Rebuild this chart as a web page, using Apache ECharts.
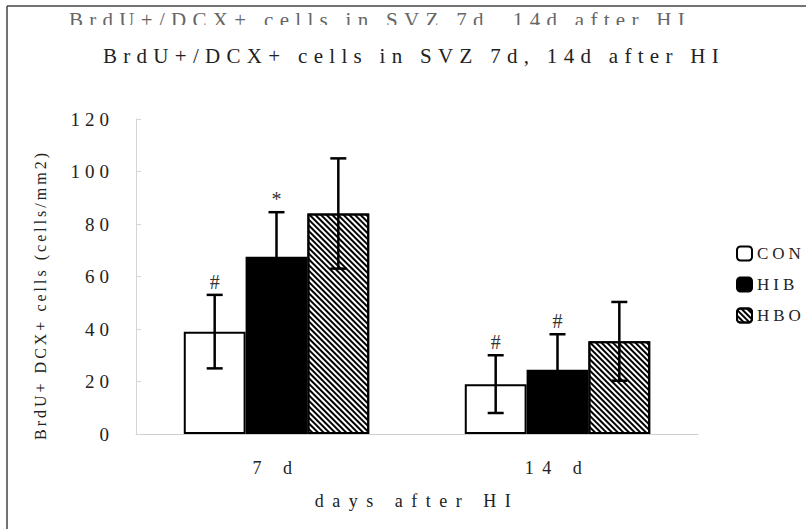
<!DOCTYPE html>
<html>
<head>
<meta charset="utf-8">
<script src="https://cdn.jsdelivr.net/npm/echarts@6/dist/echarts.min.js"></script>
<style>
  html, body { margin: 0; padding: 0; background: #fff; }
  #chart { width: 806px; height: 529px; }
  #chart text { font-family: 'Liberation Serif', serif !important; }
  /* the source figure uses widely spaced half-width glyphs */
  #chart text[style*="21px"] { letter-spacing: 6.3px; }
  #chart text[style*="19px"] { letter-spacing: 5px; }
  #chart text[style*="18px"] { letter-spacing: 8.5px; }
  #chart text[style*="17px"] { letter-spacing: 4px; }
  #chart text[style*="16px"] { letter-spacing: 3px; }
</style>
</head>
<body>
<div id="chart"></div>
<script>
// data
var categories = ['7 d', '14 d'];
var groupNames = ['CON', 'HIB', 'HBO'];
var conMean = [39, 19];
var conErr = [14, 11];
var hibMean = [67.5, 24.5];
var hibErr = [17, 13.5];
var hboMean = [84, 35.3];
var hboErr = [21, 15];
var conMark = ['#', '#'];
var hibMark = ['*', '#'];
var hboMark = ['', ''];
var yTicks = [0, 20, 40, 60, 80, 100, 120];

var titleText = 'BrdU+/DCX+ cells in SVZ 7d, 14d after HI';
var yName = 'BrdU+ DCX+ cells (cells/mm2)';
var xName = 'days after HI';

var FONT = 'Liberation Serif, serif';
var BAR_FRAC = 0.22;

var means = [conMean, hibMean, hboMean];
var errs = [conErr, hibErr, hboErr];
var marks = [conMark, hibMark, hboMark];

var barStyles = [
    {color: '#fff', borderColor: '#000', borderWidth: 2},
    {color: '#000', borderColor: '#000', borderWidth: 2},
    {
        color: '#fff', borderColor: '#000', borderWidth: 2,
        decal: {
            symbol: 'rect',
            symbolSize: 1,
            color: '#000',
            dashArrayX: [1, 0],
            dashArrayY: [1.5, 1.5],
            rotation: Math.PI / 4
        }
    }
];

function makeErrRender(gi) {
    return function (params, api) {
        var band = api.size([1, 0])[0];
        var dx = (gi - 1) * band * BAR_FRAC;
        var ci = api.value(0), m = api.value(1), e = api.value(2);
        var hi = api.coord([ci, m + e]);
        var lo = api.coord([ci, m - e]);
        var x = hi[0] + dx, cap = 8;
        var st = {stroke: '#000', lineWidth: 2.5};
        var kids = [
            {type: 'line', shape: {x1: x, y1: hi[1], x2: x, y2: lo[1]}, style: st},
            {type: 'line', shape: {x1: x - cap, y1: hi[1], x2: x + cap, y2: hi[1]}, style: st},
            {type: 'line', shape: {x1: x - cap, y1: lo[1], x2: x + cap, y2: lo[1]}, style: st}
        ];
        var mk = marks[gi][params.dataIndex];
        if (mk) {
            kids.push({
                type: 'text', x: x, y: hi[1] - 3,
                style: {text: mk, fill: '#333', font: '20px ' + FONT, align: 'center', verticalAlign: 'bottom'}
            });
        }
        return {type: 'group', children: kids};
    };
}

var series = [];
groupNames.forEach(function (name, gi) {
    series.push({
        name: name,
        type: 'bar',
        barWidth: (BAR_FRAC * 100) + '%',
        barGap: '0%',
        itemStyle: barStyles[gi],
        data: means[gi],
        animation: false
    });
});
groupNames.forEach(function (name, gi) {
    series.push({
        type: 'custom',
        z: 5,
        renderItem: makeErrRender(gi),
        data: categories.map(function (c, i) { return [i, means[gi][i], errs[gi][i]]; }),
        animation: false,
        silent: true
    });
});

var chart = echarts.init(document.getElementById('chart'), null, {renderer: 'svg'});
chart.setOption({
    backgroundColor: '#fff',
    animation: false,
    textStyle: {fontFamily: FONT, color: '#222'},
    grid: {left: 136, right: 108, top: 119, bottom: 95},
    legend: {
        orient: 'vertical',
        left: 731,
        top: 240,
        itemWidth: 15,
        itemHeight: 14,
        itemGap: 14,
        data: groupNames,
        textStyle: {fontSize: 17, fontFamily: FONT, color: '#222'}
    },
    xAxis: {
        type: 'category',
        data: categories,
        axisLine: {lineStyle: {color: '#cfcfcf', width: 1}},
        axisTick: {inside: true, length: 6, lineStyle: {color: '#cfcfcf'}},
        axisLabel: {fontSize: 18, margin: 25, color: '#222', fontFamily: FONT},
        name: xName,
        nameLocation: 'middle',
        nameGap: 58,
        nameTextStyle: {fontSize: 18, color: '#222', fontFamily: FONT}
    },
    yAxis: {
        type: 'value',
        min: yTicks[0],
        max: yTicks[yTicks.length - 1],
        interval: yTicks[1] - yTicks[0],
        axisLine: {show: true, lineStyle: {color: '#d5d5d5', width: 1}},
        axisTick: {show: true, inside: true, length: 5, lineStyle: {color: '#d5d5d5'}},
        splitLine: {show: false},
        axisLabel: {fontSize: 19, margin: 22, color: '#222', fontFamily: FONT}
    },
    graphic: [
        {type: 'line', shape: {x1: 7, y1: 6, x2: 806, y2: 6}, style: {stroke: '#444', lineWidth: 1.5}, z: 10},
        {type: 'line', shape: {x1: 7, y1: 6, x2: 7, y2: 529}, style: {stroke: '#444', lineWidth: 1.5}, z: 10},
        {
            type: 'text', x: 380, y: 20, z: 1,
            style: {text: titleText, font: '21px ' + FONT, fill: '#666', align: 'center', verticalAlign: 'middle'}
        },
        {type: 'rect', shape: {x: 9, y: 25, width: 797, height: 16}, style: {fill: '#fff'}, z: 2},
        {
            type: 'text', x: 414, y: 56, z: 3,
            style: {text: titleText, font: '21px ' + FONT, fill: '#222', align: 'center', verticalAlign: 'middle'}
        },
        {
            type: 'text', x: 40, y: 295, rotation: Math.PI / 2, z: 3,
            style: {text: yName, font: '16px ' + FONT, fill: '#222', align: 'center', verticalAlign: 'middle'}
        }
    ],
    series: series
});
</script>
</body>
</html>
